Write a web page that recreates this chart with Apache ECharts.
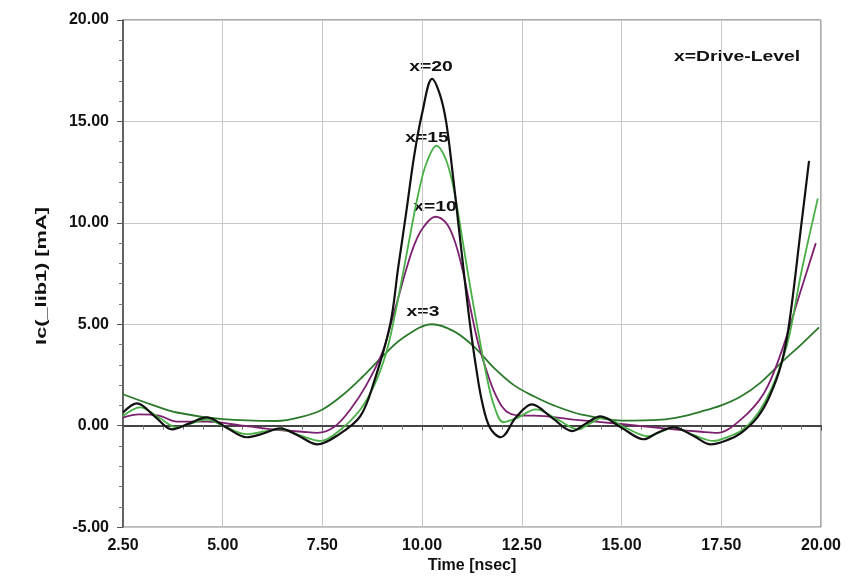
<!DOCTYPE html>
<html>
<head>
<meta charset="utf-8">
<script src="https://cdn.jsdelivr.net/npm/echarts@6/dist/echarts.min.js"></script>
<style>html,body{margin:0;padding:0;background:#fff}#c{width:845px;height:579px}</style>
</head>
<body>
<div id="c"></div>
<script>
// Axis ticks
const xTicks = [2.5, 5, 7.5, 10, 12.5, 15, 17.5, 20];
const yTicks = [-5, 0, 5, 10, 15, 20];

// x=20 (black)
const t20 = [2.5, 2.85, 3.3, 3.73, 4.15, 4.6, 5.1, 5.6, 6.0, 6.44, 6.9, 7.37, 7.9, 8.45, 8.8, 9.2, 9.4, 9.6, 9.8, 10.0, 10.25, 10.45, 10.6, 10.75, 10.9, 11.05, 11.2, 11.35, 11.5, 11.7, 11.97, 12.35, 12.75, 13.25, 13.77, 14.1, 14.47, 15.0, 15.56, 15.9, 16.3, 16.8, 17.24, 17.66, 18.0, 18.4, 18.7, 19.0, 19.2, 19.5, 19.7];
const v20 = [0.65, 1.1, 0.45, -0.18, 0.1, 0.41, -0.1, -0.57, -0.4, -0.13, -0.5, -0.92, -0.45, 0.47, 2.2, 5.0, 7.8, 10.5, 13.3, 15.4, 17.1, 16.3, 15.0, 12.7, 10.1, 7.5, 5.0, 2.9, 1.2, -0.1, -0.57, 0.4, 1.05, 0.4, -0.27, 0.1, 0.46, -0.1, -0.67, -0.35, -0.08, -0.5, -0.92, -0.7, -0.35, 0.4, 1.4, 3.0, 5.0, 9.8, 13.05];

// x=15 (light green)
const t15 = [2.5, 2.93, 3.4, 3.85, 4.2, 4.6, 5.1, 5.6, 6.0, 6.44, 6.9, 7.45, 7.95, 8.45, 8.8, 9.1, 9.3, 9.5, 9.7, 9.9, 10.1, 10.36, 10.6, 10.8, 11.0, 11.2, 11.4, 11.6, 11.8, 12.04, 12.4, 12.85, 13.4, 13.9, 14.2, 14.55, 15.1, 15.66, 16.0, 16.3, 16.8, 17.3, 17.6, 18.0, 18.3, 18.6, 18.9, 19.2, 19.5, 19.92];
const v15 = [0.47, 0.9, 0.4, -0.08, 0.1, 0.3, -0.1, -0.42, -0.3, -0.18, -0.45, -0.75, -0.2, 0.8, 2.0, 3.6, 5.3, 7.3, 9.4, 11.4, 12.9, 13.8, 13.1, 11.6, 9.3, 6.9, 4.7, 2.6, 1.0, 0.17, 0.4, 0.8, 0.3, -0.18, 0.1, 0.4, -0.1, -0.52, -0.3, -0.1, -0.45, -0.75, -0.6, -0.25, 0.3, 1.2, 2.5, 4.4, 7.5, 11.2];

// x=10 (purple)
const t10 = [2.5, 2.9, 3.4, 3.85, 4.6, 5.5, 6.35, 7.0, 7.37, 7.8, 8.2, 8.6, 9.0, 9.2, 9.4, 9.6, 9.8, 10.0, 10.33, 10.6, 10.8, 11.0, 11.2, 11.4, 11.6, 11.8, 12.0, 12.2, 12.5, 12.8, 13.8, 15.05, 16.3, 17.0, 17.4, 17.99, 18.57, 19.0, 19.5, 19.87];
const v10 = [0.4, 0.56, 0.5, 0.2, 0.2, 0.0, -0.2, -0.3, -0.35, -0.05, 0.8, 2.0, 3.6, 4.9, 6.3, 7.7, 8.9, 9.7, 10.3, 10.0, 9.2, 7.8, 5.9, 4.1, 2.8, 1.7, 0.95, 0.6, 0.5, 0.5, 0.3, 0.07, -0.18, -0.3, -0.35, 0.3, 1.6, 3.6, 6.7, 9.0];

// x=3 (dark green)
const t3 = [2.5, 3.2, 3.85, 5.0, 6.35, 7.0, 7.5, 8.0, 8.5, 9.0, 9.5, 10.25, 10.8, 11.3, 11.8, 12.3, 12.8, 13.3, 14.0, 15.0, 16.0, 16.5, 17.0, 17.5, 18.0, 18.5, 19.0, 19.5, 19.95];
const v3 = [1.55, 1.05, 0.65, 0.32, 0.23, 0.45, 0.8, 1.5, 2.4, 3.4, 4.3, 5.0, 4.65, 3.9, 2.85, 2.0, 1.45, 1.0, 0.55, 0.25, 0.3, 0.45, 0.7, 1.0, 1.45, 2.15, 3.1, 4.0, 4.85];

const zip = (t, v) => t.map((x, i) => [x, v[i]]);
const font = '"Liberation Sans", Arial, sans-serif';

const chart = echarts.init(document.getElementById('c'), null, {renderer: 'canvas'});
const mkSeries = (name, t, v, color, w) => ({
  name, type: 'line', data: zip(t, v), smooth: 0.35, showSymbol: false,
  lineStyle: {color, width: w}, itemStyle: {color}, silent: true
});
const lbl = (text, x, y) => ({
  type: 'text', x, y, scaleX: 1.38,
  style: {text, font: 'bold 14px ' + font, fill: '#111', textAlign: 'center', textVerticalAlign: 'middle'}
});

chart.setOption({
  animation: false,
  backgroundColor: '#fff',
  grid: {left: 123, right: 24, top: 20, bottom: 51, show: true, borderColor: '#555', borderWidth: 1},
  xAxis: {
    type: 'value', min: xTicks[0], max: xTicks[xTicks.length - 1], interval: 2.5,
    name: 'Time [nsec]', nameLocation: 'middle', nameGap: 30,
    nameTextStyle: {fontFamily: font, fontWeight: 'bold', fontSize: 16, color: '#111'},
    axisLine: {show: true, lineStyle: {color: '#444', width: 2}},
    axisTick: {show: true, length: 5, lineStyle: {color: '#555'}},
    minorTick: {show: true, splitNumber: 5, length: 4, lineStyle: {color: '#777'}},
    splitLine: {show: true, lineStyle: {color: '#c8c8c8', width: 1}},
    axisLabel: {fontFamily: font, fontWeight: 'bold', fontSize: 16, color: '#111', margin: 10,
      formatter: v => v.toFixed(2)}
  },
  yAxis: {
    type: 'value', min: yTicks[0], max: yTicks[yTicks.length - 1], interval: 5,
    axisLine: {show: true, lineStyle: {color: '#444', width: 1.5}},
    axisTick: {show: true, length: 6, lineStyle: {color: '#555'}},
    minorTick: {show: true, splitNumber: 5, length: 4, lineStyle: {color: '#777'}},
    splitLine: {show: true, lineStyle: {color: '#c8c8c8', width: 1}},
    axisLabel: {fontFamily: font, fontWeight: 'bold', fontSize: 16, color: '#111', margin: 14,
      formatter: v => v.toFixed(2)}
  },
  series: [
    mkSeries('x=3', t3, v3, '#2b7a2b', 1.8),
    mkSeries('x=10', t10, v10, '#7d2070', 1.8),
    mkSeries('x=15', t15, v15, '#49b046', 1.8),
    mkSeries('x=20', t20, v20, '#111111', 2.2)
  ],
  graphic: [
    lbl('x=20', 431, 67),
    lbl('x=15', 427, 138),
    lbl('x=10', 435, 207),
    lbl('x=3', 423, 312),
    lbl('x=Drive-Level', 737, 57),
    {type: 'text', x: 42, y: 276, rotation: Math.PI / 2, scaleX: 1.45,
      style: {text: 'Ic(_lib1) [mA]', font: 'bold 15px ' + font, fill: '#111', textAlign: 'center', textVerticalAlign: 'middle'}}
  ]
});
</script>
</body>
</html>
